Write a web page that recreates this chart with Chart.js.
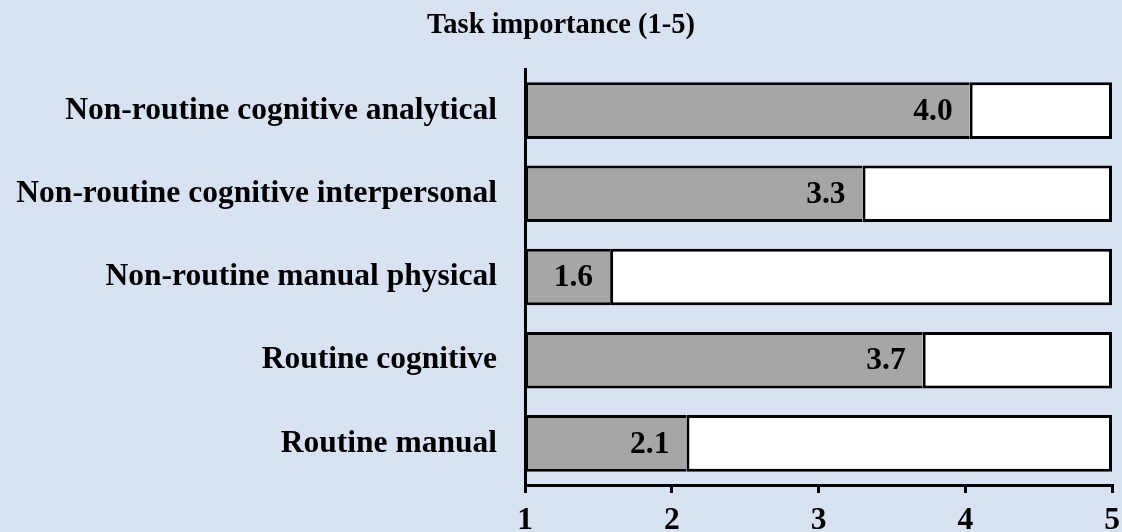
<!DOCTYPE html>
<html>
<head>
<meta charset="utf-8">
<script src="https://cdn.jsdelivr.net/npm/chart.js@4"></script>
<style>
  html, body { margin: 0; padding: 0; background: #d9e2f3; }
  #wrap { width: 1122px; height: 532px; }
</style>
</head>
<body>
<div id="wrap"><canvas id="taskChart" width="1122" height="532"></canvas></div>
<script>
// categories top to bottom, as in the picture
var categories = ["Non-routine cognitive analytical", "Non-routine cognitive interpersonal",
                  "Non-routine manual physical", "Routine cognitive", "Routine manual"];
var scores = [4.03, 3.30, 1.58, 3.71, 2.10];
var scaleMin = 1;
var scaleMax = 5;
var chartTitle = "Task importance (1-5)";

var fontFamily = "'Liberation Serif', 'DejaVu Serif', serif";
var fontSize = 31.5;

// gray part goes from the scale start to the score, white part fills the rest
var filled = scores.map(function (v) { return [scaleMin, v]; });
var rest = scores.map(function (v) { return [v, scaleMax]; });

var valueLabels = {
  id: 'valueLabels',
  afterDatasetsDraw: function (chart) {
    var ctx = chart.ctx;
    var meta = chart.getDatasetMeta(0);
    ctx.save();
    ctx.font = "bold " + fontSize + "px " + fontFamily;
    ctx.fillStyle = "#000";
    ctx.textAlign = "right";
    ctx.textBaseline = "middle";
    meta.data.forEach(function (bar, i) {
      ctx.fillText(scores[i].toFixed(1), bar.x - 17, bar.y + 1);
    });
    ctx.restore();
  }
};

new Chart(document.getElementById("taskChart"), {
  type: "bar",
  data: {
    labels: categories,
    datasets: [
      {
        data: filled,
        backgroundColor: "#a6a6a6",
        borderColor: "#000",
        borderWidth: { top: 3, bottom: 3, left: 3, right: 0 },
        borderSkipped: false,
        grouped: false,
        barPercentage: 0.68,
        categoryPercentage: 1
      },
      {
        data: rest,
        backgroundColor: "#ffffff",
        borderColor: "#000",
        borderWidth: 3,
        borderSkipped: false,
        grouped: false,
        barPercentage: 0.68,
        categoryPercentage: 1
      }
    ]
  },
  options: {
    indexAxis: "y",
    responsive: false,
    animation: false,
    layout: { padding: { left: 10, right: 10, top: 0, bottom: 0 } },
    plugins: {
      legend: { display: false },
      tooltip: { enabled: false },
      title: {
        display: true,
        text: chartTitle,
        color: "#000",
        font: { family: fontFamily, size: 28.5, weight: "bold", lineHeight: 1.2 },
        padding: { top: 9, bottom: 25.8 }
      }
    },
    scales: {
      x: {
        type: "linear",
        min: scaleMin,
        max: scaleMax,
        afterFit: function (s) {
          s.height = 47;
          // the "5" label may hang over the edge, like in the picture
          s.paddingLeft = 0;
          s.paddingRight = 0;
        },
        border: { display: true, color: "#000", width: 3 },
        grid: { drawOnChartArea: false, drawTicks: true, tickLength: 8, color: "#000", lineWidth: 3 },
        ticks: {
          stepSize: 1,
          color: "#000",
          padding: 9,
          font: { family: fontFamily, size: fontSize, weight: "bold" }
        }
      },
      y: {
        afterFit: function (s) { s.width = 515; },
        border: { display: true, color: "#000", width: 3 },
        grid: { display: false, drawTicks: false },
        ticks: {
          color: "#000",
          padding: 28,
          font: { family: fontFamily, size: fontSize, weight: "bold" }
        }
      }
    }
  },
  plugins: [valueLabels]
});
</script>
</body>
</html>
